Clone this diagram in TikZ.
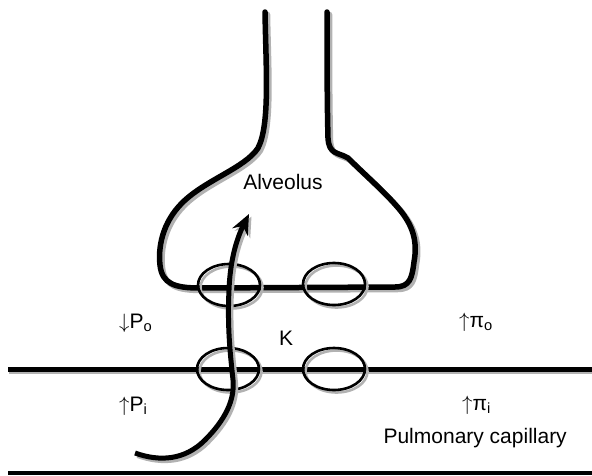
\documentclass[tikz,border=0pt]{standalone}
\usepackage{fontspec}
\setmainfont{Liberation Sans}
\usepackage{tikz}
\usetikzlibrary{arrows.meta}
\newcommand{\SaccoAlveolare}{(265,12) .. controls (266,70) and (270,125) .. (258,148)
        .. controls (245,168) and (205,180) .. (182,203)
        .. controls (162,223) and (158,248) .. (160,265)
        .. controls (162,284) and (175,288) .. (200,288)
        -- (395,287)
        .. controls (410,287) and (412,278) .. (414,262)
        .. controls (418,240) and (412,225) .. (400,210)
        .. controls (385,192) and (365,175) .. (348,158)
        .. controls (338,152) and (329,155) .. (328,138)
        .. controls (327,100) and (327,50) .. (327,12)}
\newcommand{\FlussoCapillare}{(135,453) .. controls (160,462) and (185,460) .. (205,440)
        .. controls (225,420) and (235,400) .. (233,380)
        .. controls (231,360) and (227,330) .. (229,290)
        .. controls (230,262) and (236,240) .. (249,214)}

\begin{document}
\begin{tikzpicture}[x=1pt,y=-1pt,
        ombra/.style={draw=gray!60,shift={(2.5,2.5)}},
        parete/.style={line width=5.5pt,line cap=round,line join=round},
        poro/.style={line width=2.6pt},
        freccia/.style={line width=5pt,-{Stealth[length=20pt,width=17pt]}},
        etichetta/.style={font=\fontsize{21}{25}\selectfont,inner sep=0}]

    \useasboundingbox (0,0) rectangle (592,475);

        % Alveolo: dotto e sacco (prima l'ombra grigia)
    \draw[parete,ombra] \SaccoAlveolare;
    \draw[parete] \SaccoAlveolare;

        % Parete del capillare
    \draw[line width=5pt,ombra] (6,369) -- (590,369);
    \draw[line width=5pt] (8,369) -- (592,369);
    \draw[line width=4pt] (8,473) -- (592,473);

        % Pori (sopra e sotto)
    \foreach \cx/\cy in {229/285,334/284,228/369,334/369}{
        \draw[poro,ombra] (\cx,\cy) ellipse [x radius=31,y radius=21];
        \draw[poro] (\cx,\cy) ellipse [x radius=31,y radius=21];
    }

        % Flusso dal capillare all'alveolo
    \draw[freccia,ombra] \FlussoCapillare;
    \draw[freccia] \FlussoCapillare;

        % Etichette
    \node[etichetta,anchor=base] (alveolo) at (283,189) {Alveolus};
    \node[etichetta,anchor=base west] (pOut) at (119,328) {$\downarrow$P\textsubscript{o}};
    \node[etichetta,anchor=base west] (pIn) at (119,411) {$\uparrow$P\textsubscript{i}};
    \node[etichetta,anchor=base west] (kappa) at (279,345) {K};
    \node[etichetta,anchor=base west] (piOut) at (459,327) {$\uparrow$π\textsubscript{o}};
    \node[etichetta,anchor=base west] (piIn) at (462,410) {$\uparrow$π\textsubscript{i}};
    \node[etichetta,anchor=base east] (capillare) at (567,443) {Pulmonary capillary};

\end{tikzpicture}
\end{document}
